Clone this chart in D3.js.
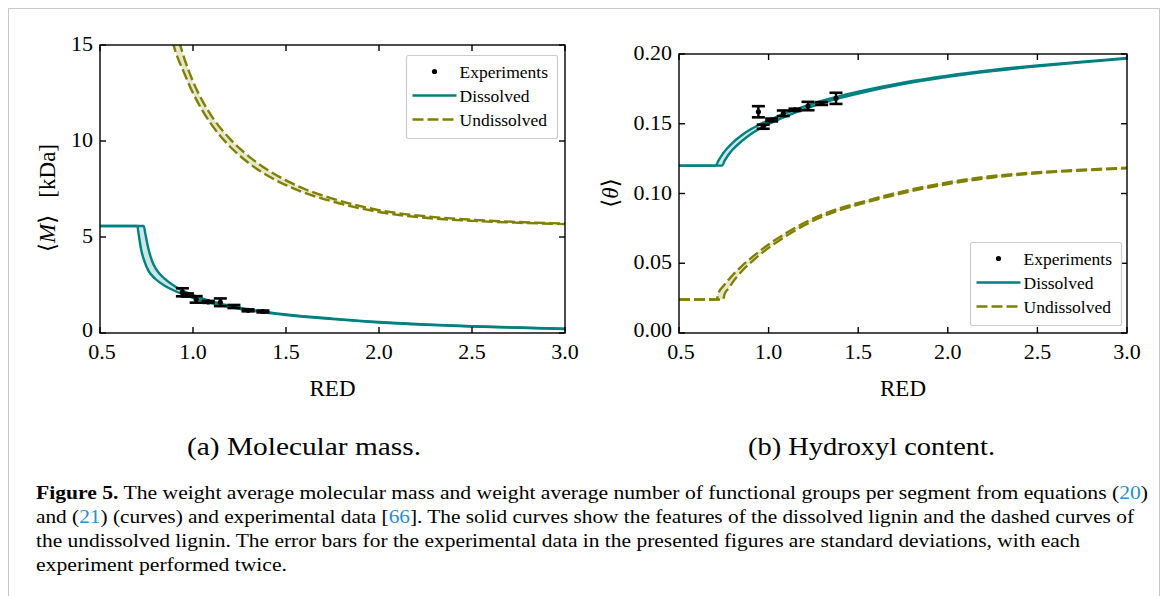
<!DOCTYPE html>
<html><head><meta charset="utf-8">
<script src="https://cdn.jsdelivr.net/npm/d3@7"></script>
<style>
html,body{margin:0;padding:0;background:#fff;}
svg{display:block;}
</style></head>
<body>
<svg id="chart" width="1168" height="596" font-family="'Liberation Serif', 'Times New Roman', Tinos, 'DejaVu Serif', serif"></svg>
<script>
// ---------- data ----------
const xTicks = [0.5, 1.0, 1.5, 2.0, 2.5, 3.0];
const massYTicks = [0, 5, 10, 15];
const hydroxylYTicks = [0.00, 0.05, 0.10, 0.15, 0.20];

// Molecular mass (kDa) bands: [RED, value]
const massDissolvedA = [[0.5,5.57],[0.70,5.57],[0.71,5.0],[0.72,4.4],[0.74,3.7],[0.76,3.25],[0.80,2.8],[0.85,2.45],[0.90,2.2],[0.95,2.0],[1.0,1.83],[1.1,1.56],[1.2,1.35],[1.3,1.18],[1.4,1.05],[1.5,0.94],[1.75,0.72],[2.0,0.55],[2.25,0.43],[2.5,0.34],[2.75,0.27],[3.0,0.21]];
const massDissolvedB = [[0.5,5.57],[0.735,5.57],[0.745,5.1],[0.76,4.4],[0.78,3.75],[0.80,3.35],[0.85,2.8],[0.90,2.45],[0.95,2.18],[1.0,1.97],[1.1,1.65],[1.2,1.42],[1.3,1.23],[1.4,1.09],[1.5,0.97],[1.75,0.75],[2.0,0.57],[2.25,0.45],[2.5,0.355],[2.75,0.285],[3.0,0.225]];
const massUndissolvedA = [[0.89,15.2],[0.9,14.85],[0.95,13.6],[1.0,12.5],[1.05,11.6],[1.1,10.85],[1.2,9.7],[1.3,8.85],[1.4,8.2],[1.5,7.7],[1.6,7.3],[1.75,6.85],[2.0,6.3],[2.25,6.0],[2.5,5.84],[2.75,5.74],[3.0,5.67]];
const massUndissolvedB = [[0.925,15.2],[0.95,14.4],[1.0,13.1],[1.05,12.1],[1.1,11.3],[1.2,10.1],[1.3,9.2],[1.4,8.5],[1.5,7.95],[1.6,7.5],[1.75,7.0],[2.0,6.4],[2.25,6.08],[2.5,5.9],[2.75,5.78],[3.0,5.7]];
const massExpX = [0.943, 0.970, 1.017, 1.082, 1.147, 1.220, 1.296, 1.376];
const massExpY = [2.12, 1.98, 1.75, 1.62, 1.60, 1.38, 1.18, 1.12];
const massExpErr = [0.21, 0.08, 0.17, 0.05, 0.20, 0.08, 0.05, 0.05];

// Hydroxyl content bands
const hydDissolvedA = [[0.5,0.12],[0.705,0.12],[0.72,0.1235],[0.75,0.1295],[0.8,0.1365],[0.85,0.1418],[0.9,0.146],[0.95,0.1495],[1.0,0.1525],[1.1,0.1578],[1.2,0.1625],[1.3,0.1665],[1.4,0.170],[1.5,0.173],[1.75,0.1795],[2.0,0.1845],[2.25,0.1885],[2.5,0.1918],[2.75,0.1945],[3.0,0.1972]];
const hydDissolvedB = [[0.5,0.12],[0.74,0.12],[0.755,0.1235],[0.78,0.1285],[0.8,0.1315],[0.85,0.1375],[0.9,0.1425],[0.95,0.1465],[1.0,0.1498],[1.1,0.1555],[1.2,0.1605],[1.3,0.1648],[1.4,0.1685],[1.5,0.1717],[1.75,0.1785],[2.0,0.1837],[2.25,0.1878],[2.5,0.1912],[2.75,0.194],[3.0,0.1967]];
const hydUndissolvedA = [[0.5,0.024],[0.71,0.024],[0.72,0.0285],[0.75,0.034],[0.8,0.0415],[0.85,0.048],[0.9,0.0535],[1.0,0.0635],[1.1,0.0718],[1.2,0.079],[1.3,0.085],[1.4,0.0895],[1.5,0.0932],[1.75,0.1015],[2.0,0.108],[2.25,0.1125],[2.5,0.1152],[2.75,0.117],[3.0,0.1185]];
const hydUndissolvedB = [[0.5,0.024],[0.745,0.024],[0.755,0.028],[0.78,0.0325],[0.8,0.0365],[0.85,0.0443],[0.9,0.0505],[1.0,0.061],[1.1,0.0697],[1.2,0.0772],[1.3,0.0835],[1.4,0.0882],[1.5,0.092],[1.75,0.1003],[2.0,0.1068],[2.25,0.1115],[2.5,0.1145],[2.75,0.1165],[3.0,0.118]];
const hydExpX = [0.943, 0.970, 1.017, 1.082, 1.147, 1.220, 1.296, 1.376];
const hydExpY = [0.1586, 0.1479, 0.1527, 0.1575, 0.1600, 0.1627, 0.1645, 0.1682];
const hydExpErr = [0.0040, 0.0015, 0.0010, 0.0020, 0.0008, 0.0030, 0.0010, 0.0040];

const legendLabels = ["Experiments", "Dissolved", "Undissolved"];
const subCaptions = ["(a) Molecular mass.", "(b) Hydroxyl content."];

// ---------- drawing ----------
const TEAL = "#008080", OLIVE = "#808000";
const SERIF = "'Liberation Serif', 'Times New Roman', Tinos, 'DejaVu Serif', serif";
const svg = d3.select("#chart");
svg.append("rect").attr("x",8.5).attr("y",8.5).attr("width",1151).attr("height",620)
  .attr("fill","none").attr("stroke","#c8c8c8").attr("stroke-width",1);

function txt(sel) { return sel.append("text").attr("font-family", SERIF).attr("fill","#000"); }

function panel(id, box, yDomain, yTicks, yFmt, bands, exp, legendPos, yLabel) {
  const x = d3.scaleLinear().domain([0.5,3.0]).range([box.x0, box.x1]);
  const y = d3.scaleLinear().domain(yDomain).range([box.y1, box.y0]);
  const g = svg.append("g");
  g.append("clipPath").attr("id","clip"+id).append("rect")
    .attr("x",box.x0).attr("y",box.y0).attr("width",box.x1-box.x0).attr("height",box.y1-box.y0);
  const pg = g.append("g").attr("clip-path","url(#clip"+id+")");
  const line = d3.line().x(d=>x(d[0])).y(d=>y(d[1])).curve(d3.curveMonotoneX);
  bands.forEach(b => {
    const poly = line(b.a) + "L" + line(b.b.slice().reverse()).slice(1) + "Z";
    pg.append("path").attr("d", poly).attr("fill", b.color).attr("fill-opacity",0.2).attr("stroke","none");
    [b.a, b.b].forEach(arr => {
      pg.append("path").attr("d", line(arr)).attr("fill","none").attr("stroke", b.color)
        .attr("stroke-width",2.4).attr("stroke-dasharray", b.dash ? "11,4" : null);
    });
  });
  // experiments
  const eg = g.append("g");
  exp.x.forEach((xv,i) => {
    const cx = x(xv), yt = y(exp.y[i]+exp.e[i]), yb = y(exp.y[i]-exp.e[i]);
    eg.append("line").attr("x1",cx).attr("x2",cx).attr("y1",yt).attr("y2",yb).attr("stroke","#000").attr("stroke-width",2.4);
    [yt,yb].forEach(yy => eg.append("line").attr("x1",cx-6.5).attr("x2",cx+6.5).attr("y1",yy).attr("y2",yy).attr("stroke","#000").attr("stroke-width",2.6));
    eg.append("circle").attr("cx",cx).attr("cy",y(exp.y[i])).attr("r",2.6).attr("fill","#000");
  });
  // frame
  g.append("rect").attr("x",box.x0).attr("y",box.y0).attr("width",box.x1-box.x0).attr("height",box.y1-box.y0)
    .attr("fill","none").attr("stroke","#000").attr("stroke-width",1.4);
  // axes with inward ticks on all sides
  const tl = 6;
  const ax = g.append("g");
  xTicks.forEach(t => {
    const px = x(t);
    ax.append("line").attr("x1",px).attr("x2",px).attr("y1",box.y1).attr("y2",box.y1-tl).attr("stroke","#000").attr("stroke-width",1.4);
    ax.append("line").attr("x1",px).attr("x2",px).attr("y1",box.y0).attr("y2",box.y0+tl).attr("stroke","#000").attr("stroke-width",1.4);
    txt(ax).attr("x",px + (t===0.5 ? 2 : 0)).attr("y",box.y1+26).attr("text-anchor","middle").attr("font-size",22).text(t.toFixed(1));
  });
  yTicks.forEach(t => {
    const py = y(t);
    ax.append("line").attr("x1",box.x0).attr("x2",box.x0+tl).attr("y1",py).attr("y2",py).attr("stroke","#000").attr("stroke-width",1.4);
    ax.append("line").attr("x1",box.x1).attr("x2",box.x1-tl).attr("y1",py).attr("y2",py).attr("stroke","#000").attr("stroke-width",1.4);
    txt(ax).attr("x",box.x0-7).attr("y",py+(t===0 ? 4 : 6)).attr("text-anchor","end").attr("font-size",22).text(yFmt(t));
  });
  txt(ax).attr("x",(box.x0+box.x1)/2).attr("y",396).attr("text-anchor","middle").attr("font-size",23).text("RED");
  // y label
  const yl = txt(ax).attr("transform",`translate(${yLabel.x},${yLabel.y}) rotate(-90)`)
    .attr("text-anchor","middle").attr("font-size",23);
  yLabel.parts.forEach(p => yl.append("tspan").attr("font-style",p.it?"italic":null).attr("font-family",p.dv?"'DejaVu Serif', serif":null).text(p.t));
  // legend
  const lg = g.append("g").attr("transform",`translate(${legendPos.x},${legendPos.y})`);
  lg.append("rect").attr("x",0).attr("y",0).attr("width",legendPos.w).attr("height",83).attr("rx",2)
    .attr("fill","#fff").attr("fill-opacity",0.85).attr("stroke","#cccccc").attr("stroke-width",1.2);
  const rows = [16, 40, 64];
  lg.append("circle").attr("cx",28).attr("cy",rows[0]).attr("r",2.6).attr("fill","#000");
  lg.append("line").attr("x1",6).attr("x2",50).attr("y1",rows[1]).attr("y2",rows[1]).attr("stroke",TEAL).attr("stroke-width",2.4);
  lg.append("line").attr("x1",6).attr("x2",50).attr("y1",rows[2]).attr("y2",rows[2]).attr("stroke",OLIVE).attr("stroke-width",2.4).attr("stroke-dasharray","11,4");
  legendLabels.forEach((l,i) => txt(lg).attr("x",53).attr("y",rows[i]+6).attr("font-size",17.5).text(l));
}

panel("L", {x0:100, x1:565, y0:45, y1:333}, [0,15], massYTicks, d=>String(d),
  [{a:massDissolvedA, b:massDissolvedB, color:TEAL, dash:false},
   {a:massUndissolvedA, b:massUndissolvedB, color:OLIVE, dash:true}],
  {x:massExpX, y:massExpY, e:massExpErr},
  {x:406.5, y:55.5, w:151},
  {x:55, y:198, parts:[{t:"⟨",dv:true},{t:"M",it:true},{t:"⟩",dv:true},{t:"\u00a0\u00a0\u00a0[kDa]"}]});

panel("R", {x0:679, x1:1127, y0:54, y1:333}, [0,0.2], hydroxylYTicks, d=>d.toFixed(2),
  [{a:hydDissolvedA, b:hydDissolvedB, color:TEAL, dash:false},
   {a:hydUndissolvedA, b:hydUndissolvedB, color:OLIVE, dash:true}],
  {x:hydExpX, y:hydExpY, e:hydExpErr},
  {x:970.5, y:242.5, w:151},
  {x:618, y:193, parts:[{t:"⟨",dv:true},{t:"θ",it:true},{t:"⟩",dv:true}]});

// sub-captions
txt(svg).attr("x",187).attr("y",455).attr("font-size",25).attr("textLength",234).attr("lengthAdjust","spacingAndGlyphs").text(subCaptions[0]);
txt(svg).attr("x",748).attr("y",455).attr("font-size",25).attr("textLength",247).attr("lengthAdjust","spacingAndGlyphs").text(subCaptions[1]);

// caption
const BLUE = "#2a8fc9";
const capLines = [
  {y:499, w:1112, parts:[{t:"Figure 5.",b:true},{t:" The weight average molecular mass and weight average number of functional groups per segment from equations ("},{t:"20",c:BLUE},{t:")"}]},
  {y:523, w:1098, parts:[{t:"and ("},{t:"21",c:BLUE},{t:") (curves) and experimental data ["},{t:"66",c:BLUE},{t:"]. The solid curves show the features of the dissolved lignin and the dashed curves of"}]},
  {y:547, w:1044, parts:[{t:"the undissolved lignin. The error bars for the experimental data in the presented figures are standard deviations, with each"}]},
  {y:571, w:251, parts:[{t:"experiment performed twice."}]}
];
capLines.forEach(l => {
  const t = txt(svg).attr("x",36).attr("y",l.y).attr("font-size",19)
    .attr("textLength",l.w).attr("lengthAdjust","spacingAndGlyphs");
  l.parts.forEach(p => t.append("tspan").attr("font-weight",p.b?"bold":null).attr("fill",p.c||"#000").text(p.t));
});
</script>
</body></html>
